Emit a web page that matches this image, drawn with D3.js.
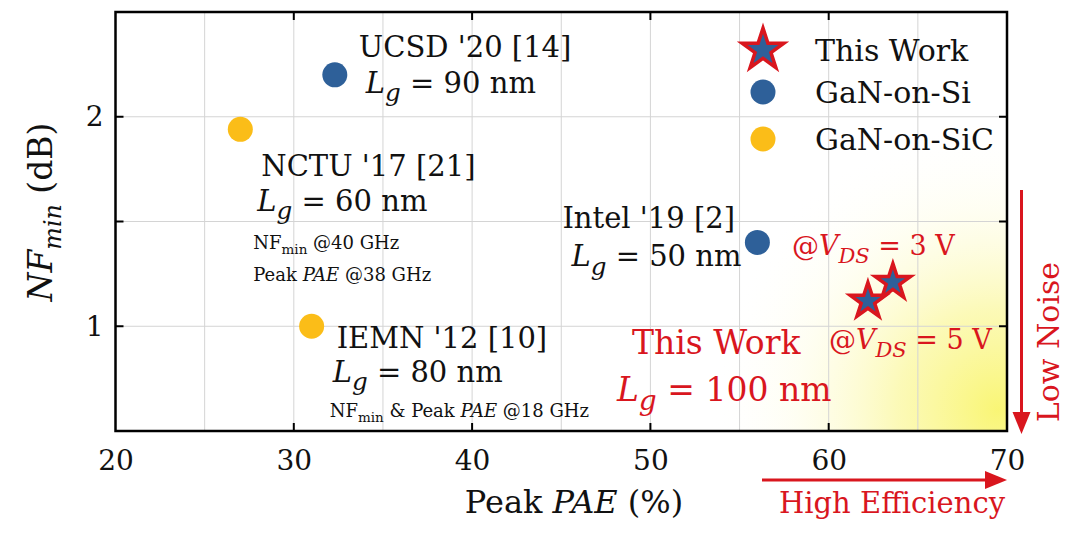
<!DOCTYPE html>
<html>
<head>
<meta charset="utf-8">
<script src="https://cdn.jsdelivr.net/npm/d3@7"></script>
<style>
  html, body { margin: 0; padding: 0; background: #fff; }
  svg { display: block; font-family: "DejaVu Serif", serif; }
</style>
</head>
<body>
<div id="chart"></div>
<script>
// Data
const refNames = ["UCSD '20 [14]", "NCTU '17 [21]", "IEMN '12 [10]", "Intel '19 [2]"];
const refPAE = [32.3, 27.0, 31.0, 56.0];
const refNF = [2.2, 1.94, 1.0, 1.4];
const refSubstrate = ["GaN-on-Si", "GaN-on-SiC", "GaN-on-SiC", "GaN-on-Si"];
const refLg = [90, 60, 80, 50];

const workPAE = [63.6, 62.2];
const workNF = [1.21, 1.12];
const workVds = [3, 5];
const workLg = 100;

const xTicks = [20, 30, 40, 50, 60, 70];
const yTicks = [1, 2];
const legendItems = ["This Work", "GaN-on-Si", "GaN-on-SiC"];

const BLUE = '#2e6099', YELLOW = '#fbbd18', RED = '#d9161e';
const substrateColor = { 'GaN-on-Si': BLUE, 'GaN-on-SiC': YELLOW };

const W = 1080, H = 535;
const M = { left: 115.5, right: 1007, top: 12, bottom: 431 };

const svg = d3.select('#chart').append('svg')
  .attr('width', W).attr('height', H);

const x = d3.scaleLinear().domain([20, 70]).range([M.left, M.right]);
const y = d3.scaleLinear().domain([0.5, 2.5]).range([M.bottom, M.top]);

// rich text helper: parts = [{t, it, sub}]
function rich(sel, px, py, parts, size, color, anchor) {
  const t = sel.append('text').attr('x', px).attr('y', py)
    .attr('font-size', size).attr('fill', color || '#111')
    .attr('text-anchor', anchor || 'start');
  let shift = 0;
  parts.forEach(p => {
    const sp = t.append('tspan').text(p.t);
    const want = p.sub ? size * 0.28 : 0;
    if (want !== shift) { sp.attr('dy', want - shift); shift = want; }
    if (p.it) sp.attr('font-style', 'italic');
    if (p.sub) sp.attr('font-size', size * (p.scale || 0.78));
  });
  return t;
}

// highlight gradient (bottom right)
const defs = svg.append('defs');
const grad = defs.append('radialGradient').attr('id', 'glow')
  .attr('gradientUnits', 'userSpaceOnUse')
  .attr('cx', x(69.5)).attr('cy', y(0.6)).attr('r', 290);
grad.append('stop').attr('offset', 0).attr('stop-color', '#f9f56e').attr('stop-opacity', 0.95);
grad.append('stop').attr('offset', 0.35).attr('stop-color', '#fbf8a6').attr('stop-opacity', 0.8);
grad.append('stop').attr('offset', 0.7).attr('stop-color', '#fefde0').attr('stop-opacity', 0.4);
grad.append('stop').attr('offset', 1).attr('stop-color', '#ffffff').attr('stop-opacity', 0);
defs.append('clipPath').attr('id', 'plotclip').append('rect')
  .attr('x', M.left).attr('y', M.top)
  .attr('width', M.right - M.left).attr('height', M.bottom - M.top);

svg.append('rect').attr('clip-path', 'url(#plotclip)')
  .attr('x', M.left).attr('y', M.top)
  .attr('width', M.right - M.left).attr('height', M.bottom - M.top)
  .attr('fill', 'url(#glow)');

// grid
const grid = svg.append('g').attr('stroke', '#d4d4d4').attr('stroke-width', 1);
grid.selectAll('.gx').data(d3.range(25, 70, 5)).join('line')
  .attr('x1', d => x(d)).attr('x2', d => x(d))
  .attr('y1', M.top).attr('y2', M.bottom);
grid.selectAll('.gy').data([1, 1.5, 2]).join('line')
  .attr('x1', M.left).attr('x2', M.right)
  .attr('y1', d => y(d)).attr('y2', d => y(d));

// inner ticks
const tk = svg.append('g').attr('stroke', '#000').attr('stroke-width', 2);
[30, 40, 50, 60].forEach(v => {
  tk.append('line').attr('x1', x(v)).attr('x2', x(v)).attr('y1', M.bottom).attr('y2', M.bottom - 8);
  tk.append('line').attr('x1', x(v)).attr('x2', x(v)).attr('y1', M.top).attr('y2', M.top + 8);
});
[1, 1.5, 2].forEach(v => {
  tk.append('line').attr('y1', y(v)).attr('y2', y(v)).attr('x1', M.left).attr('x2', M.left + 8);
  tk.append('line').attr('y1', y(v)).attr('y2', y(v)).attr('x1', M.right).attr('x2', M.right - 8);
});

// frame
svg.append('rect').attr('x', M.left).attr('y', M.top)
  .attr('width', M.right - M.left).attr('height', M.bottom - M.top)
  .attr('fill', 'none').attr('stroke', '#000').attr('stroke-width', 2.5);

// axes labels
const xAxis = svg.append('g').attr('transform', `translate(0,${M.bottom})`)
  .call(d3.axisBottom(x).tickValues(xTicks).tickSize(0).tickPadding(19));
const yAxis = svg.append('g').attr('transform', `translate(${M.left},0)`)
  .call(d3.axisLeft(y).tickValues(yTicks).tickSize(0).tickPadding(12).tickFormat(d3.format('d')));
[xAxis, yAxis].forEach(a => {
  a.select('.domain').remove();
  a.selectAll('text').attr('font-family', '"DejaVu Serif", serif')
    .attr('font-size', 28).attr('fill', '#111');
});

// axis titles
rich(svg, 574, 513, [{ t: 'Peak ' }, { t: 'PAE', it: true }, { t: ' (%)' }], 32, '#111', 'middle');
rich(svg.append('g').attr('transform', 'translate(52,212) rotate(-90)'), 0, 0,
  [{ t: 'NF', it: true }, { t: 'min', it: true, sub: true, scale: 0.72 }, { t: ' (dB)' }], 33, '#111', 'middle');

// reference annotations (offsets from each point, px)
const lgParts = v => [{ t: 'L', it: true }, { t: 'g', it: true, sub: true, scale: 0.85 }, { t: ` = ${v} nm` }];
const labelOffsets = [
  { name: [24, -18], lg: [31, 18] },
  { name: [21, 47], lg: [17, 82] },
  { name: [25, 22], lg: [21, 56] },
  { name: [-195, -14], lg: [-186, 24] }
];
const notes = svg.append('g');
refNames.forEach((n, i) => {
  const px = x(refPAE[i]), py = y(refNF[i]);
  const o = labelOffsets[i];
  rich(notes, px + o.name[0], py + o.name[1], [{ t: n }], 29);
  rich(notes, px + o.lg[0], py + o.lg[1], lgParts(refLg[i]), 29);
});
// small frequency notes
{
  const px = x(refPAE[1]), py = y(refNF[1]);
  rich(notes, px + 13, py + 120, [{ t: 'NF' }, { t: 'min', sub: true, scale: 0.75 }, { t: ' @40 GHz' }], 18);
  rich(notes, px + 13, py + 152, [{ t: 'Peak ' }, { t: 'PAE', it: true }, { t: ' @38 GHz' }], 18);
  const qx = x(refPAE[2]), qy = y(refNF[2]);
  rich(notes, qx + 18, qy + 91, [{ t: 'NF' }, { t: 'min', sub: true, scale: 0.75 }, { t: ' &  Peak ' }, { t: 'PAE', it: true }, { t: ' @18 GHz' }], 18);
}

// reference points
svg.append('g').selectAll('circle').data(refPAE).join('circle')
  .attr('cx', (d, i) => x(d)).attr('cy', (d, i) => y(refNF[i]))
  .attr('r', 12.5)
  .attr('fill', (d, i) => substrateColor[refSubstrate[i]]);

// this work labels
const w3x = x(workPAE[0]), w3y = y(workNF[0]);
const w5x = x(workPAE[1]), w5y = y(workNF[1]);
const vdsParts = v => [{ t: '@' }, { t: 'V', it: true }, { t: 'DS', it: true, sub: true, scale: 0.78 }, { t: ` = ${v} V` }];
rich(svg, w3x - 101, w3y - 27, vdsParts(workVds[0]), 27, RED);
rich(svg, w5x - 39, w5y + 48, vdsParts(workVds[1]), 27, RED);
rich(svg, w5x - 236, w5y + 53, [{ t: 'This Work' }], 33, RED);
rich(svg, w5x - 251, w5y + 100, lgParts(workLg), 33, RED);

// stars
const star = d3.symbol().type(d3.symbolStar);
svg.append('g').selectAll('path').data(workPAE).join('path')
  .attr('transform', (d, i) => `translate(${x(d)},${y(workNF[i])})`)
  .attr('d', star.size(390)())
  .attr('fill', BLUE).attr('stroke', RED).attr('stroke-width', 3.5)
  .attr('stroke-linejoin', 'miter');

// legend
const lg = svg.append('g').attr('transform', 'translate(763,50)');
legendItems.forEach((t, i) => {
  const ly = [0, 42, 89][i];
  if (i === 0) {
    lg.append('path').attr('transform', `translate(0,${ly})`)
      .attr('d', star.size(540)()).attr('fill', BLUE).attr('stroke', RED).attr('stroke-width', 3.5);
  } else {
    lg.append('circle').attr('cx', 0).attr('cy', ly).attr('r', 12.5)
      .attr('fill', substrateColor[t]);
  }
  rich(lg, 52, ly + 11, [{ t }], 30, '#111');
});

// direction arrows
function arrow(x1, y1, x2, y2) {
  const ang = Math.atan2(y2 - y1, x2 - x1);
  const L = 22, Wd = 9;
  const bx = x2 - L * Math.cos(ang), by = y2 - L * Math.sin(ang);
  svg.append('line').attr('x1', x1).attr('y1', y1).attr('x2', bx).attr('y2', by)
    .attr('stroke', RED).attr('stroke-width', 3);
  svg.append('path').attr('fill', RED).attr('d',
    `M${x2},${y2}L${bx - Wd * Math.sin(ang)},${by + Wd * Math.cos(ang)}L${bx + Wd * Math.sin(ang)},${by - Wd * Math.cos(ang)}Z`);
}
arrow(762, 480, 1007, 480);
arrow(1021.5, 190, 1021.5, 434);
rich(svg, 892, 513, [{ t: 'High Efficiency' }], 29, RED, 'middle');
rich(svg.append('g').attr('transform', 'translate(1059,342) rotate(-90)'), 0, 0, [{ t: 'Low Noise' }], 30, RED, 'middle');
</script>
</body>
</html>
